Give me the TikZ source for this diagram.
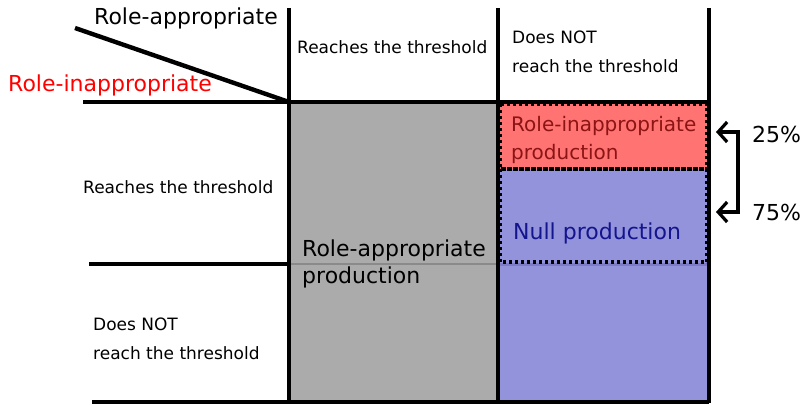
\documentclass[tikz,border=0pt]{standalone}
\usepackage{fontspec}
\setmainfont{DejaVu Sans}
\usetikzlibrary{arrows.meta}
\definecolor{cellgray}{HTML}{ABABAB}
\definecolor{splitgray}{HTML}{8A8A8A}
\definecolor{cellred}{HTML}{FF7373}
\definecolor{cellblue}{HTML}{9393DC}
\definecolor{splitblue}{HTML}{7C7CC6}
\definecolor{darkred}{HTML}{8C1414}
\definecolor{darkblue}{HTML}{14148C}
\tikzset{
  grid/.style={line width=3.4pt, black},
  diag/.style={line width=4.4pt, black},
  dotbox/.style={line width=3.2pt, dash pattern=on 3pt off 3pt, black},
  lbl/.style={anchor=base west, inner sep=0pt, font=\fontsize{17}{20}\selectfont},
  big/.style={anchor=base west, inner sep=0pt, font=\fontsize{22}{26}\selectfont},
  mid/.style={anchor=base west, inner sep=0pt, font=\fontsize{20}{24}\selectfont},
  bracket/.style={line width=3.2pt, {Straight Barb[length=9pt,width=20pt]}-{Straight Barb[length=9pt,width=20pt]}}
}
\begin{document}
\begin{tikzpicture}[x=1pt,y=-1pt]
\useasboundingbox (0,0) rectangle (805,404);

% cell fills
\fill[cellgray] (289,102) rectangle (498,402);
\fill[cellred] (498,102) rectangle (709,169);
\fill[cellblue] (498,169) rectangle (709,402);
\draw[splitgray, line width=2.6pt] (289,264) -- (498,264);
\draw[splitblue, line width=3pt] (498,264) -- (709,264);

% dotted outlines of the split cell
\draw[dotbox] (500,104) rectangle (707,169);
\draw[dotbox] (500,169) rectangle (707,262);

% grid lines
\draw[grid] (83,102) -- (709,102);
\draw[grid] (89,264) -- (289,264);
\draw[grid] (92,402) -- (709,402);
\draw[grid] (289,8) -- (289,403);
\draw[grid] (498,8) -- (498,403);
\draw[grid] (709,8) -- (709,403);
\draw[diag] (75,28) -- (289,102);

% header labels
\node[big] (colhead) at (94,25) {Role-appropriate};
\node[big, text=red] (rowhead) at (8,91) {Role-inappropriate};
\node[lbl] (colreach) at (297,54) {Reaches the threshold};
\node[lbl] (colnot1) at (512,44) {Does NOT};
\node[lbl] (colnot2) at (512,73) {reach the threshold};
\node[lbl] (rowreach) at (83,193) {Reaches the threshold};
\node[lbl] (rownot1) at (93,330) {Does NOT};
\node[lbl] (rownot2) at (93,359) {reach the threshold};

% cell contents
\node[big] (app1) at (302,256) {Role-appropriate};
\node[big] (app2) at (302,283) {production};
\node[mid, text=darkred] (inapp1) at (511,131) {Role-inappropriate};
\node[mid, text=darkred] (inapp2) at (511,159) {production};
\node[big, text=darkblue] (null) at (513,239) {Null production};

% proportion bracket
\node[big] (p25) at (752,142) {25\%};
\node[big] (p75) at (752,220) {75\%};
\coordinate (tip25) at (716,132);
\coordinate (tip75) at (716,212);
\coordinate (bartop) at (738,132);
\coordinate (barbot) at (738,212);
\draw[bracket] (tip25) -- (bartop) -- (barbot) -- (tip75);
\end{tikzpicture}
\end{document}
